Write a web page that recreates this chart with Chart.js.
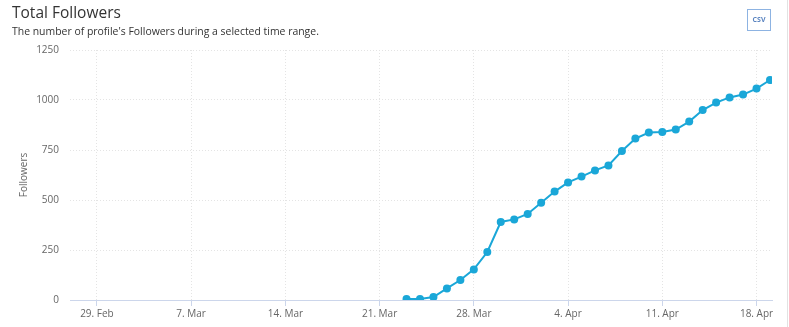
<!DOCTYPE html>
<html>
<head>
<meta charset="utf-8">
<script src="https://cdn.jsdelivr.net/npm/chart.js@4/dist/chart.umd.min.js"></script>
<style>
  html, body { margin: 0; padding: 0; background: #fff; }
  body { width: 789px; height: 327px; position: relative; overflow: hidden; font-family: "Open Sans", sans-serif; }
  #title { position: absolute; left: 12px; top: 1px; font-size: 15.5px; color: #333; }
  #subtitle { position: absolute; left: 12px; top: 24px; font-size: 10.45px; color: #333; }
  #csvBtn {
    position: absolute; left: 747px; top: 9px; width: 22px; height: 20px;
    border: 1px solid #8db3e2; color: #5a84c0; font-size: 7px; font-weight: bold;
    line-height: 20px; text-align: center;
  }
  #edge { position: absolute; left: 787px; top: 0; width: 1px; height: 327px; background: #e2e2e2; }
  #followersChart { position: absolute; left: 0; top: 0; }
</style>
</head>
<body>
<canvas id="followersChart" width="789" height="327"></canvas>
<div id="title">Total Followers</div>
<div id="subtitle">The number of profile's Followers during a selected time range.</div>
<div id="csvBtn">CSV</div>
<div id="edge"></div>
<script>
// daily follower counts
const dates = [
  "2020-03-23", "2020-03-24", "2020-03-25", "2020-03-26", "2020-03-27", "2020-03-28", "2020-03-29",
  "2020-03-30", "2020-03-31", "2020-04-01", "2020-04-02", "2020-04-03", "2020-04-04", "2020-04-05",
  "2020-04-06", "2020-04-07", "2020-04-08", "2020-04-09", "2020-04-10", "2020-04-11", "2020-04-12",
  "2020-04-13", "2020-04-14", "2020-04-15", "2020-04-16", "2020-04-17", "2020-04-18", "2020-04-19"
];
const followers = [
  5, 5, 15, 58, 100, 153, 240,
  390, 403, 430, 486, 542, 588, 617,
  648, 673, 745, 807, 837, 840, 852,
  892, 950, 987, 1013, 1027, 1057, 1100
];

// x axis ticks (weekly)
const tickDates = ["2020-02-29", "2020-03-07", "2020-03-14", "2020-03-21", "2020-03-28", "2020-04-04", "2020-04-11", "2020-04-18"];
const tickLabels = ["29. Feb", "7. Mar", "14. Mar", "21. Mar", "28. Mar", "4. Apr", "11. Apr", "18. Apr"];
const yTicks = [0, 250, 500, 750, 1000, 1250];

const DAY = 86400000;
const origin = Date.parse(tickDates[0]);
const dayNum = s => (Date.parse(s) - origin) / DAY;

const points = dates.map((d, i) => ({ x: dayNum(d), y: followers[i] }));
const tickDays = tickDates.map(dayNum);

const LINE = "#1aa7d8";
const GRID = "#e4e4e4";

const ctx = document.getElementById("followersChart").getContext("2d");
new Chart(ctx, {
  type: "line",
  data: {
    datasets: [{
      data: points,
      borderColor: LINE,
      backgroundColor: LINE,
      borderWidth: 2,
      pointRadius: 4,
      pointBorderWidth: 0,
      tension: 0
    }]
  },
  options: {
    responsive: false,
    animation: false,
    devicePixelRatio: 1,
    layout: { padding: { top: 50, right: 17, left: 0, bottom: 0 } },
    plugins: { legend: { display: false }, tooltip: { enabled: false } },
    scales: {
      x: {
        type: "linear",
        min: -2,
        max: 50.15,
        afterBuildTicks: s => { s.ticks = tickDays.map(v => ({ value: v })); },
        afterFit: s => { s.height = 27; },
        grid: {
          color: GRID,
          tickColor: "#ccd6eb",
          tickLength: 6,
          lineWidth: 1
        },
        border: { display: true, color: "#ccd6eb", dash: [1, 2] },
        ticks: {
          padding: 2,
          color: "#666",
          font: { family: "Open Sans", size: 10 },
          maxRotation: 0,
          autoSkip: false,
          callback: v => {
            const i = tickDays.indexOf(v);
            return i >= 0 ? tickLabels[i] : "";
          }
        }
      },
      y: {
        min: 0,
        max: 1250,
        afterBuildTicks: s => { s.ticks = yTicks.map(v => ({ value: v })); },
        afterFit: s => { s.width = 70; },
        grid: { color: GRID, drawTicks: false },
        border: { display: false, dash: [1, 2] },
        ticks: {
          padding: 11,
          color: "#666",
          font: { family: "Open Sans", size: 10 },
          callback: v => String(v)
        },
        title: {
          display: true,
          text: "Followers",
          color: "#666",
          font: { family: "Open Sans", size: 10 },
          padding: { top: 18, bottom: 0 }
        }
      }
    }
  },
  plugins: [{
    // the x axis line itself is solid, only the grid is dotted
    id: "baseLine",
    afterDraw(chart) {
      const { ctx, chartArea } = chart;
      ctx.save();
      ctx.strokeStyle = "#ccd6eb";
      ctx.lineWidth = 1;
      ctx.beginPath();
      ctx.moveTo(chartArea.left, chartArea.bottom + 0.5);
      ctx.lineTo(chartArea.right, chartArea.bottom + 0.5);
      ctx.stroke();
      ctx.restore();
    }
  }]
});
</script>
</body>
</html>
